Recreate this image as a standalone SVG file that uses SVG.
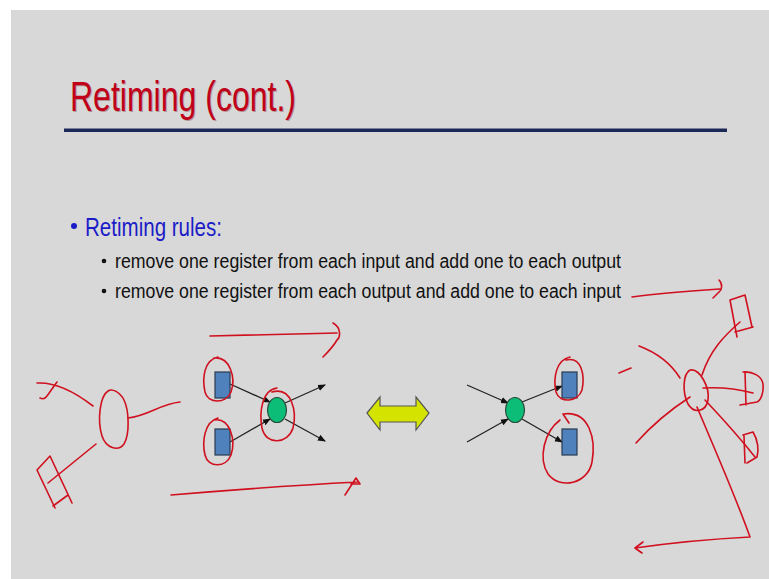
<svg xmlns="http://www.w3.org/2000/svg" width="769" height="579" viewBox="0 0 769 579">
<defs>
<style>
.ink{fill:none;stroke:#d0101e;stroke-width:1.6;stroke-linecap:round;stroke-linejoin:round}
.reg{fill:#4f81bd;stroke:#2a3a50;stroke-width:1.2}
.node{fill:#0cbd78;stroke:#2a4a3a;stroke-width:1.2}
.edge{fill:none;stroke:#222;stroke-width:1.3}
.sub{font-family:"Liberation Sans",Arial,sans-serif;font-size:20px;fill:#111}
</style>
<marker id="ah" markerWidth="8" markerHeight="8" refX="7" refY="4" orient="auto" markerUnits="userSpaceOnUse">
<path d="M0,0.8 L8,4 L0,7.2 Z" fill="#111"/>
</marker>
</defs>
<rect x="0" y="0" width="769" height="579" fill="#ffffff"/>
<rect x="11" y="10" width="758" height="569" fill="#d8d8d8"/>

<g id="title">
<text x="71" y="112" font-family="Liberation Sans,Arial,sans-serif" font-size="43" fill="#5a0000" opacity="0.3" textLength="226" lengthAdjust="spacingAndGlyphs">Retiming (cont.)</text>
<text x="70" y="111" font-family="Liberation Sans,Arial,sans-serif" font-size="43" fill="#c00018" textLength="226" lengthAdjust="spacingAndGlyphs">Retiming (cont.)</text>
</g>
<rect x="64" y="128.5" width="663" height="3.5" fill="#1c2858"/>

<g id="bullets">
<circle cx="74" cy="226" r="3" fill="#1c1cc8"/>
<text x="85" y="236" font-family="Liberation Sans,Arial,sans-serif" font-size="26" fill="#1c1cc8" textLength="137" lengthAdjust="spacingAndGlyphs">Retiming rules:</text>
<circle cx="104" cy="261" r="2.3" fill="#111"/>
<text class="sub" x="115" y="268" textLength="506" lengthAdjust="spacingAndGlyphs">remove one register from each input and add one to each output</text>
<circle cx="104" cy="291" r="2.3" fill="#111"/>
<text class="sub" x="115" y="298" textLength="506" lengthAdjust="spacingAndGlyphs">remove one register from each output and add one to each input</text>
</g>

<g id="connectors">
<line class="edge" x1="230" y1="384" x2="270" y2="402" marker-end="url(#ah)"/>
<line class="edge" x1="230" y1="442" x2="270" y2="419" marker-end="url(#ah)"/>
<line class="edge" x1="285" y1="403" x2="325" y2="385" marker-end="url(#ah)"/>
<line class="edge" x1="285" y1="419" x2="325" y2="441" marker-end="url(#ah)"/>
<line class="edge" x1="467" y1="385" x2="508" y2="403" marker-end="url(#ah)"/>
<line class="edge" x1="467" y1="442" x2="508" y2="419" marker-end="url(#ah)"/>
<line class="edge" x1="522" y1="402" x2="562" y2="386" marker-end="url(#ah)"/>
<line class="edge" x1="522" y1="419" x2="562" y2="442" marker-end="url(#ah)"/>
</g>

<g id="left-reg-top"><rect class="reg" x="215" y="372" width="15" height="26"/></g>
<g id="left-reg-bottom"><rect class="reg" x="215" y="429" width="15" height="26"/></g>
<g id="left-node"><ellipse class="node" cx="277" cy="410" rx="9.5" ry="12.5"/></g>
<g id="right-node"><ellipse class="node" cx="515" cy="410" rx="9.5" ry="12.5"/></g>
<g id="right-reg-top"><rect class="reg" x="562" y="372" width="15" height="26"/></g>
<g id="right-reg-bottom"><rect class="reg" x="562" y="429" width="15" height="26"/></g>

<g id="double-arrow">
<path d="M367,413 L380,397 L380,406 L416,406 L416,397 L429,413 L416,430 L416,422 L380,422 L380,430 Z" fill="#d4e400" stroke="#555" stroke-width="1.2" stroke-linejoin="miter"/>
</g>

<g id="annotations">
<path class="ink" d="M218,357 C204,360 202,378 205,392 C208,404 226,404 231,392 C236,378 230,356 214,358"/>
<path class="ink" d="M218,418 C204,422 202,442 205,455 C208,468 226,468 231,455 C236,440 230,417 214,420"/>
<path class="ink" d="M277,388 C262,390 259,412 262,428 C266,446 288,444 293,428 C297,412 292,386 272,392"/>
<path class="ink" d="M570,357 C556,360 553,378 556,392 C560,404 578,402 582,390 C585,376 582,356 566,360"/>
<path class="ink" d="M563,414 C590,410 596,440 592,462 C588,484 560,490 548,474 C538,458 544,432 560,420 M563,414 L569,423"/>
<path class="ink" d="M210,336 C260,335 300,334 337,333 M333,323 C342,328 340,338 337,340 C333,347 328,352 323,357"/>
<path class="ink" d="M171,495 C230,490 300,485 358,482 M345,495 L356,478 L360,484 L351,484"/>
<path class="ink" d="M37,383 C55,382 75,392 93,406 M57,382 L47,396 C45,399 42,399 40,398"/>
<path class="ink" d="M108,391 C100,396 97,420 102,436 C106,448 118,452 124,444 C130,434 129,410 124,400 C120,392 112,388 108,391"/>
<path class="ink" d="M128,418 C148,416 160,404 180,402"/>
<path class="ink" d="M96,444 L48,483"/>
<path class="ink" d="M37,470 L50,456 L72,503 M37,470 L55,508 M53,506 L68,495"/>
<path class="ink" d="M632,297 C660,293 690,291 720,289 M719,280 C723,284 722,290 719,292 C717,294 715,296 713,298"/>
<path class="ink" d="M730,300 L745,295 L752,327 M730,300 L737,337 M735,332 L753,327"/>
<path class="ink" d="M702,375 C710,350 725,335 740,322"/>
<path class="ink" d="M690,370 C683,374 682,392 688,404 C694,414 706,412 708,400 C710,388 700,368 690,370"/>
<path class="ink" d="M639,346 C655,352 670,362 680,378"/>
<path class="ink" d="M619,373 L631,368"/>
<path class="ink" d="M690,397 C670,410 652,425 636,443"/>
<path class="ink" d="M703,388 C720,387 738,389 753,393"/>
<path class="ink" d="M743,372 C752,371 762,376 763,384 C764,394 760,401 757,402 M745,372 L746,405 M740,405 L757,402"/>
<path class="ink" d="M705,400 C722,418 740,438 755,457"/>
<path class="ink" d="M743,435 L753,432 C758,440 759,450 757,457 L747,463 M744,436 L745,463"/>
<path class="ink" d="M697,407 C715,450 735,495 750,537 C712,539 670,543 635,548 M643,542 L635,548 L642,553"/>
</g>
</svg>
